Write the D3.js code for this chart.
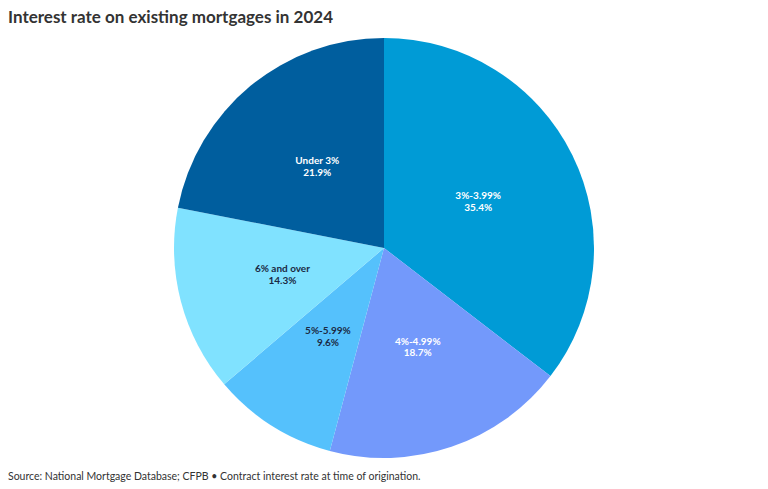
<!DOCTYPE html>
<html>
<head>
<meta charset="utf-8">
<script src="https://cdn.jsdelivr.net/npm/d3@7"></script>
<style>
body { margin: 0; background: #fff; font-family: Lato, sans-serif; }
</style>
</head>
<body>
<svg id="mysvg" width="768" height="489"></svg>
<script>
var categories = ["3%-3.99%", "4%-4.99%", "5%-5.99%", "6% and over", "Under 3%"];
var shares = [35.4, 18.7, 9.6, 14.3, 21.9];
var colors = ["#009bd6", "#7399fb", "#55c1fc", "#80e2ff", "#005e9e"];
var textColors = ["#ffffff", "#ffffff", "#1b2a44", "#1b2a44", "#ffffff"];

var svg = d3.select("#mysvg");

svg.append("text")
	.attr("x", 8)
	.attr("y", 23)
	.attr("font-size", 17)
	.attr("font-weight", "bold")
	.attr("fill", "#333")
	.text("Interest rate on existing mortgages in 2024");

var cx = 384, cy = 248, r = 210;

var pie = d3.pie().sort(null).value(function (d) { return d; });
var arcs = pie(shares);
var arc = d3.arc().innerRadius(0).outerRadius(r);

var g = svg.append("g").attr("transform", "translate(" + cx + "," + cy + ")");

g.selectAll("path")
	.data(arcs)
	.enter()
	.append("path")
	.attr("d", arc)
	.attr("fill", function (d, i) { return colors[i]; });

var labels = g.selectAll("text.lbl")
	.data(arcs)
	.enter()
	.append("text")
	.attr("class", "lbl")
	.attr("text-anchor", "middle")
	.attr("font-size", 10)
	.attr("font-weight", "bold")
	.attr("fill", function (d, i) { return textColors[i]; })
	.attr("transform", function (d) {
		var c = arc.centroid(d);
		return "translate(" + c[0] + "," + c[1] + ")";
	});

labels.append("tspan")
	.attr("x", 0)
	.attr("dy", "-0.25em")
	.text(function (d, i) { return categories[i]; });
labels.append("tspan")
	.attr("x", 0)
	.attr("dy", "1.15em")
	.text(function (d) { return d.value.toFixed(1) + "%"; });

svg.append("text")
	.attr("x", 8)
	.attr("y", 480)
	.attr("font-size", 10.5)
	.attr("fill", "#333")
	.text("Source: National Mortgage Database; CFPB \u2022 Contract interest rate at time of origination.");
</script>
</body>
</html>
